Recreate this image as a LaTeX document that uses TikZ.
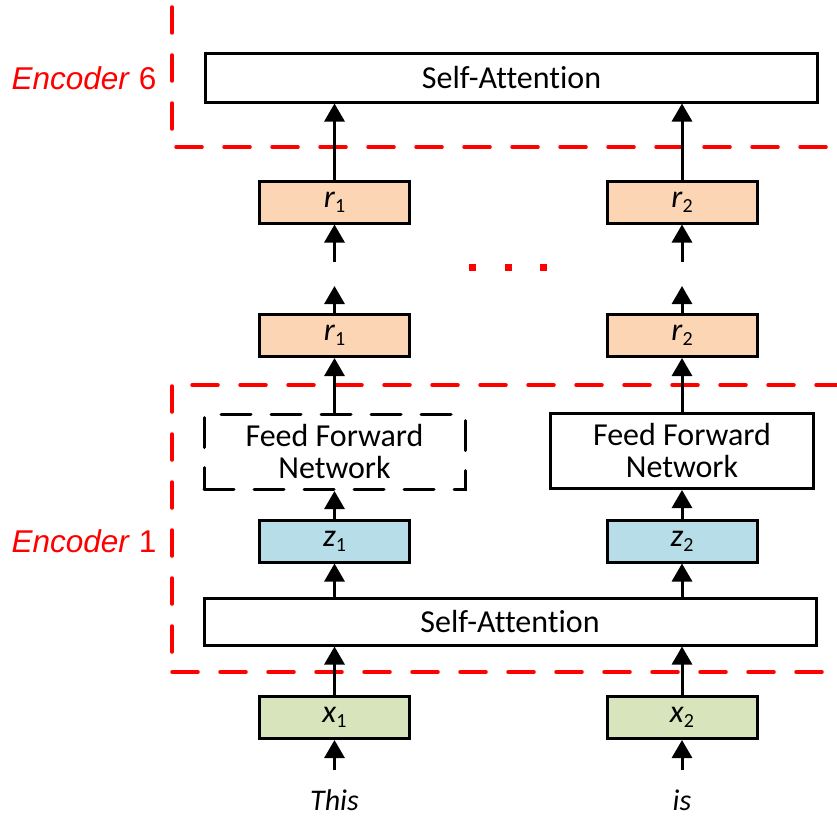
\documentclass[tikz,border=0pt]{standalone}
\usepackage{fontspec}
\setmainfont{Carlito}[Ligatures=NoCommon]
\newfontfamily\labelfont{Liberation Sans}
\usetikzlibrary{arrows.meta}

\definecolor{peach}{HTML}{FCD5B4}
\definecolor{aqua}{HTML}{B7DEE8}
\definecolor{olive}{HTML}{D7E4BC}
\definecolor{encred}{HTML}{FF0000}

% token with italic letter and upright subscript
\newcommand\tokvec[2]{\textit{#1}\raisebox{-5pt}{\fontsize{20}{20}\selectfont #2}}

\tikzset{
  boxtext/.style={font=\fontsize{32}{32}\selectfont, align=center, inner sep=0pt},
  plainbox/.style={boxtext, draw, line width=3pt},
  ffnbox/.style={plainbox, minimum width=261pt, minimum height=75pt},
  tokbox/.style={plainbox, minimum width=150pt, minimum height=42pt},
  arr/.style={-{Triangle[width=20pt,length=18pt]}, line width=3pt},
  encline/.style={draw=encred, line width=3.5pt, line cap=round, dash pattern=on 26pt off 22pt},
  enclabel/.style={text=encred, font=\labelfont\fontsize{31.5}{32}\selectfont, inner sep=0pt},
  word/.style={font=\fontsize{30}{32}\selectfont\itshape, inner sep=0pt, anchor=base}
}

\begin{document}
\begin{tikzpicture}[x=1pt,y=-1pt]
\useasboundingbox[fill=white] (0,0) rectangle (837,816);

% encoder regions
\draw[encline] (172,7) -- (172,133);
\draw[encline] (176,147) -- (837,147);
\draw[encline] (192,385) -- (837,385);
\draw[encline] (172,386) -- (172,652);
\draw[encline] (172,672) -- (837,672);

\node[enclabel] (enc6) at (84,78) {\textit{Encoder} 6};
\node[enclabel] (enc1) at (84,541) {\textit{Encoder} 1};

% top encoder
\node[plainbox, minimum width=612pt, minimum height=48pt] (saTop) at (511.5,78) {Self-Attention};

% outputs
\node[tokbox, fill=peach] (r1a) at (334.5,202) {\tokvec{r}{1}};
\node[tokbox, fill=peach] (r2a) at (682,202) {\tokvec{r}{2}};
\node[tokbox, fill=peach] (r1b) at (334.5,335.5) {\tokvec{r}{1}};
\node[tokbox, fill=peach] (r2b) at (682,335.5) {\tokvec{r}{2}};

% ellipsis between stacked encoders
\fill[encred] (469,264) rectangle ++(7,7);
\fill[encred] (504.5,264) rectangle ++(7,7);
\fill[encred] (539.5,264) rectangle ++(7,7);

% bottom encoder
\node[ffnbox, dash pattern=on 30pt off 20pt, line cap=round] (ffn1) at (334.5,452) {Feed Forward\\Network};
\node[ffnbox, minimum width=263pt] (ffn2) at (682,451) {Feed Forward\\Network};
\node[tokbox, fill=aqua] (z1) at (334.5,541) {\tokvec{z}{1}};
\node[tokbox, fill=aqua] (z2) at (682,541) {\tokvec{z}{2}};
\node[plainbox, minimum width=612pt, minimum height=47pt] (saBot) at (510,621.5) {Self-Attention};

% inputs
\node[tokbox, fill=olive] (x1) at (334.5,717.5) {\tokvec{x}{1}};
\node[tokbox, fill=olive] (x2) at (682,717.5) {\tokvec{x}{2}};
\node[word] (w1) at (334.5,810) {This};
\node[word] (w2) at (682,810) {is};

% free arrow ends
\coordinate (in1) at (334.5,770);
\coordinate (in2) at (682,770);
\coordinate (up1) at (334.5,286);
\coordinate (up2) at (682,286);
\coordinate (lo1) at (334.5,262);
\coordinate (lo2) at (682,262);

% connectors
\foreach \c in {1,2}{
  \draw[arr] (in\c) -- (x\c.south);
  \draw[arr] (x\c.north) -- (x\c.north |- saBot.south);
  \draw[arr] (z\c.south |- saBot.north) -- (z\c.south);
  \draw[arr] (z\c.north) -- (z\c.north |- ffn\c.south);
  \draw[arr] (r\c b.south |- ffn\c.north) -- (r\c b.south);
  \draw[arr] (r\c b.north) -- (up\c);
  \draw[arr] (lo\c) -- (r\c a.south);
  \draw[arr] (r\c a.north) -- (r\c a.north |- saTop.south);
}
\end{tikzpicture}
\end{document}
